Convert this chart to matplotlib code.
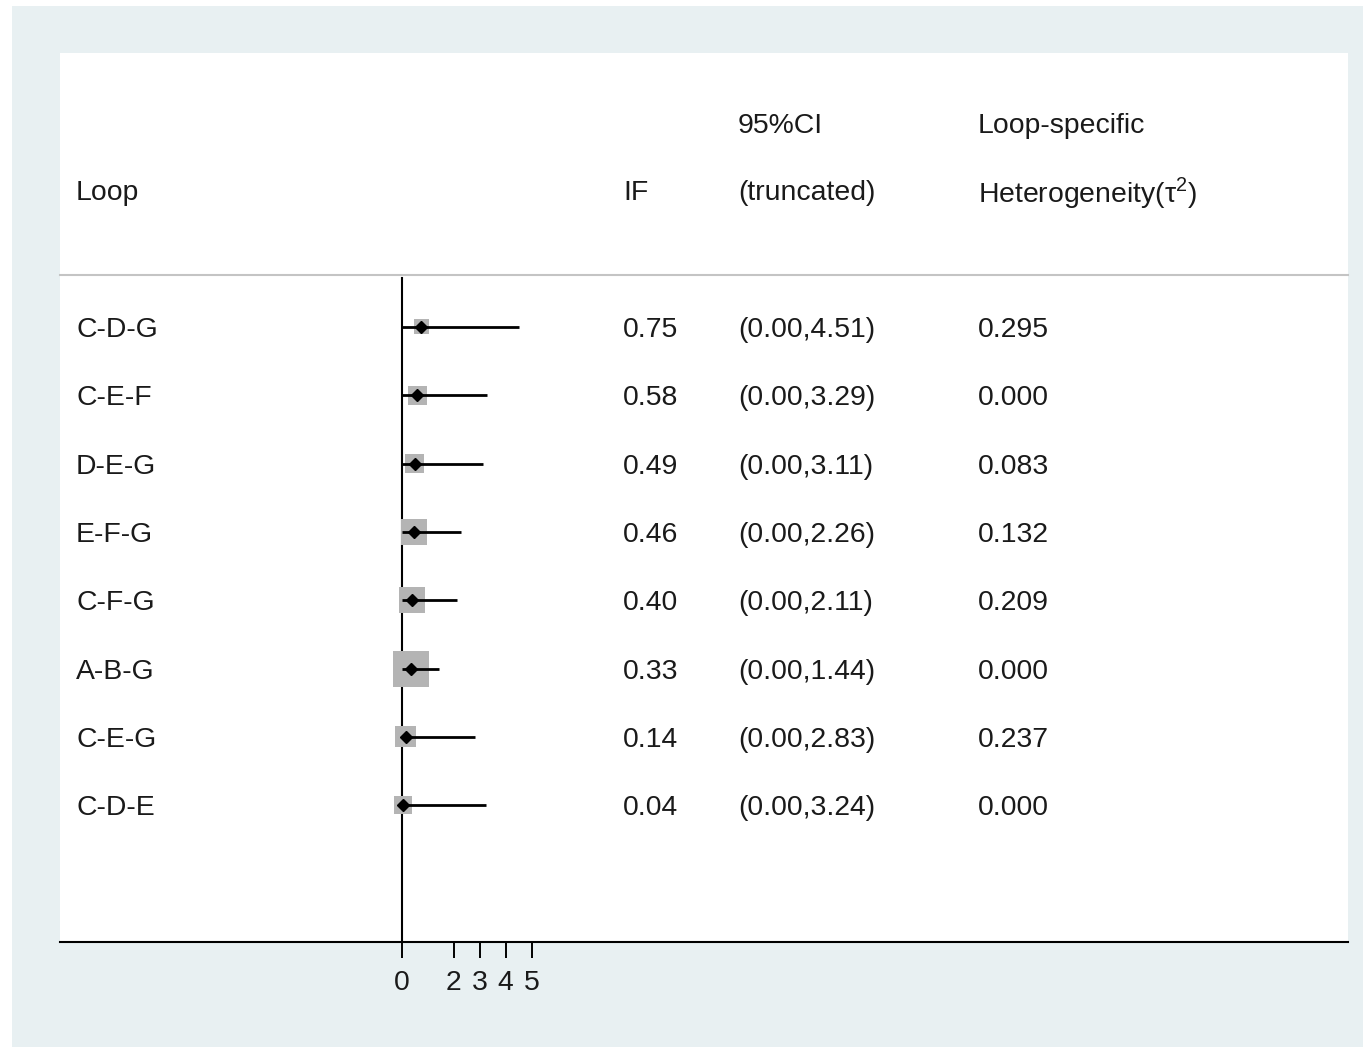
import matplotlib
matplotlib.use("Agg")
import matplotlib.pyplot as plt
import matplotlib.transforms as mtransforms
from matplotlib.patches import Rectangle

plt.rcParams['font.family'] = ['Liberation Sans', 'DejaVu Sans']
plt.rcParams['mathtext.fontset'] = 'custom'
plt.rcParams['mathtext.rm'] = 'Liberation Sans'

# data
loops = ['C-D-G', 'C-E-F', 'D-E-G', 'E-F-G', 'C-F-G', 'A-B-G', 'C-E-G', 'C-D-E']
inc_factor = [0.75, 0.58, 0.49, 0.46, 0.40, 0.33, 0.14, 0.04]
ci_low = [0.00, 0.00, 0.00, 0.00, 0.00, 0.00, 0.00, 0.00]
ci_high = [4.51, 3.29, 3.11, 2.26, 2.11, 1.44, 2.83, 3.24]
tau2 = [0.295, 0.000, 0.083, 0.132, 0.209, 0.000, 0.237, 0.000]
box_px = [15, 19, 19, 26, 26, 36, 21, 18]   # weight boxes, side in pixels
xticks = [0, 2, 3, 4, 5]

W, H = 1363, 1047
fig = plt.figure(figsize=(W / 100, H / 100), dpi=100, facecolor='white')

# light panel behind the plot region
fig.patches.append(Rectangle((12 / W, 0), 1 - 12 / W, 1 - 6 / H,
                             transform=fig.transFigure, facecolor='#e8f0f2',
                             edgecolor='none', zorder=-5))

left, right, top, bottom = 60, 1348, 53, 942
ax = fig.add_axes([left / W, 1 - bottom / H, (right - left) / W, (bottom - top) / H])
ax.set_facecolor('white')

# scale: 0 at x=402 px, about 25.9 px per unit
unit = 25.9
ax.set_xlim(-(402 - left) / unit, (right - 402) / unit)
row_px = 68.3
ax.set_ylim(-(bottom - 327) / row_px, (327 - top) / row_px)

fs = 20.4
tc = '#1a1a1a'

for s in ['top', 'left', 'right']:
    ax.spines[s].set_visible(False)
ax.spines['bottom'].set_linewidth(1.5)
ax.set_yticks([])
ax.set_xticks(xticks)
ax.set_xticklabels([str(t) for t in xticks], fontsize=fs, color=tc)
ax.tick_params(axis='x', direction='out', length=11.5, width=1.4, pad=8.5)

ys = [-i for i in range(len(loops))]

# header separator and null line
header_frac = (bottom - 275) / (bottom - top)
ax.plot([0, 1], [header_frac, header_frac], transform=ax.transAxes,
        color='#c4c4c4', lw=1.5, clip_on=False)
ax.plot([0, 0], [0, header_frac - 0.003], transform=ax.get_xaxis_transform(),
        color='black', lw=1.5)

# weight boxes, CI lines and point estimates
ax.scatter(inc_factor, ys, s=[(b * 0.72) ** 2 for b in box_px], marker='s',
           color='#b4b4b4', edgecolors='none', zorder=2)
ax.hlines(ys, ci_low, ci_high, color='black', lw=2.0, zorder=3)
ax.plot(inc_factor, ys, linestyle='none', marker='D', markersize=6,
        color='black', zorder=4)

# text columns
tr = mtransforms.blended_transform_factory(ax.transAxes, ax.transData)
col_loop = (76 - left) / (right - left)
col_if = (623 - left) / (right - left)
col_ci = (738 - left) / (right - left)
col_tau = (978 - left) / (right - left)

dy = -0.045
for y, name, v, lo, hi, t in zip(ys, loops, inc_factor, ci_low, ci_high, tau2):
    ax.text(col_loop, y + dy, name, transform=tr, fontsize=fs, color=tc, va='center')
    ax.text(col_if, y + dy, f'{v:.2f}', transform=tr, fontsize=fs, color=tc, va='center')
    ax.text(col_ci, y + dy, f'({lo:.2f},{hi:.2f})', transform=tr, fontsize=fs,
            color=tc, va='center')
    ax.text(col_tau, y + dy, f'{t:.3f}', transform=tr, fontsize=fs, color=tc, va='center')

h1 = (327 - 126) / row_px
h2 = (327 - 193) / row_px
ax.text(col_loop, h2, 'Loop', transform=tr, fontsize=fs, color=tc, va='center')
ax.text(col_if, h2, 'IF', transform=tr, fontsize=fs, color=tc, va='center')
ax.text(col_ci, h1, '95%CI', transform=tr, fontsize=fs, color=tc, va='center')
ax.text(col_ci, h2, '(truncated)', transform=tr, fontsize=fs, color=tc, va='center')
ax.text(col_tau, h1, 'Loop-specific', transform=tr, fontsize=fs, color=tc, va='center')
ax.text(col_tau, h2, r'Heterogeneity(τ$^{\mathregular{2}}$)', transform=tr,
        fontsize=fs, color=tc, va='center')

fig.savefig('out.png', dpi=100, facecolor=fig.get_facecolor())
